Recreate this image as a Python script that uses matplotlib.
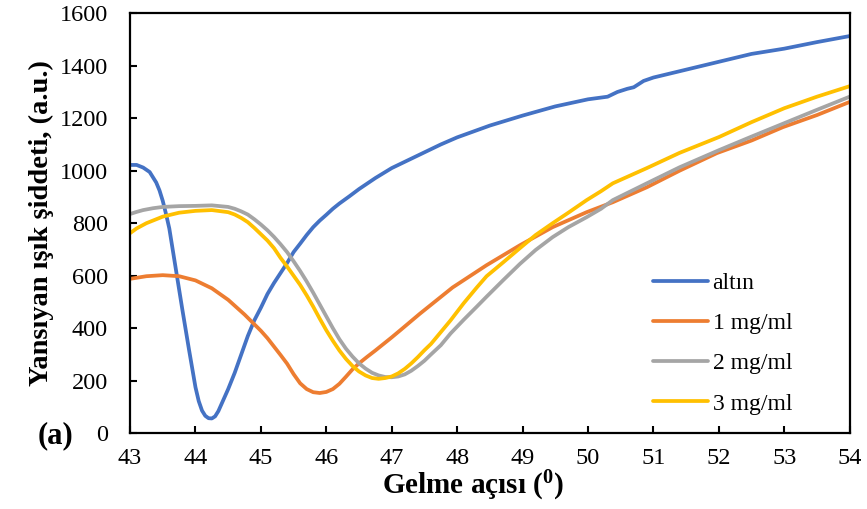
import matplotlib.pyplot as plt

plt.rcParams["font.family"] = ["Liberation Serif", "DejaVu Serif"]
plt.rcParams["mathtext.fontset"] = "custom"
plt.rcParams["mathtext.rm"] = "Liberation Serif"
plt.rcParams["mathtext.bf"] = "Liberation Serif:bold"

# altın
x_gold = [43.0, 43.1, 43.2, 43.3, 43.4, 43.45, 43.5, 43.55, 43.6, 43.7, 43.8, 43.9,
          44.0, 44.05, 44.1, 44.15, 44.2, 44.25, 44.3, 44.35, 44.4, 44.45, 44.5, 44.6,
          44.7, 44.8, 44.9, 45.0, 45.1, 45.2, 45.3, 45.4, 45.5, 45.6, 45.7, 45.8,
          45.9, 46.0, 46.1, 46.2, 46.35, 46.5, 46.75, 47.0, 47.25, 47.5, 47.75, 48.0,
          48.5, 49.0, 49.5, 50.0, 50.3, 50.45, 50.6, 50.7, 50.85, 51.0, 51.5, 52.0,
          52.5, 53.0, 53.5, 54.0]
y_gold = [1022, 1022, 1012, 995, 955, 925, 885, 835, 780, 625, 470, 320,
          175, 122, 86, 66, 57, 56, 64, 84, 112, 140, 168, 230,
          300, 370, 430, 478, 530, 572, 610, 648, 690, 722, 755, 785,
          810, 832, 855, 875, 902, 930, 972, 1010, 1040, 1070, 1100, 1127,
          1172, 1210, 1245, 1272, 1282, 1300, 1312, 1318, 1342, 1355, 1385, 1415,
          1445, 1465, 1490, 1513]

# 1 mg/ml
x_1 = [43.0, 43.25, 43.5, 43.75, 44.0, 44.25, 44.5, 44.75, 45.0, 45.1, 45.2,
       45.3, 45.4, 45.5, 45.6, 45.7, 45.8, 45.9, 46.0, 46.1, 46.2, 46.3,
       46.4, 46.5, 46.62, 46.75, 47.0, 47.13, 47.43, 47.93, 48.45, 48.96, 49.46,
       49.98, 50.38, 50.9, 51.4, 51.97, 52.5, 52.98, 53.5, 54.0]
y_1 = [588, 598, 602, 598, 582, 552, 508, 452, 390, 362, 330,
       298, 265, 225, 190, 168, 156, 153, 157, 168, 188, 215,
       243, 266, 290, 315, 365, 392, 455, 555, 640, 716, 785,
       842, 880, 937, 1000, 1067, 1115, 1166, 1212, 1262]

# 2 mg/ml
x_2 = [43.0, 43.1, 43.2, 43.35, 43.5, 43.75, 44.0, 44.25, 44.5, 44.6, 44.7,
       44.8, 44.9, 45.0, 45.1, 45.2, 45.3, 45.4, 45.5, 45.6, 45.7, 45.8,
       45.9, 46.0, 46.1, 46.2, 46.3, 46.4, 46.5, 46.6, 46.7, 46.8, 46.9,
       47.0, 47.1, 47.2, 47.3, 47.4, 47.5, 47.6, 47.75, 47.9, 48.1, 48.3,
       48.45, 48.7, 48.96, 49.2, 49.46, 49.7, 49.98, 50.2, 50.38, 50.9, 51.4,
       52.0, 52.5, 53.0, 53.5, 54.0]
y_2 = [835, 843, 850, 857, 862, 865, 866, 868, 862, 855, 845,
       833, 815, 795, 773, 748, 720, 690, 655, 618, 578, 535,
       490, 445, 400, 358, 322, 292, 266, 246, 230, 220, 214,
       213, 216, 224, 238, 256, 276, 300, 335, 380, 432, 482,
       520, 582, 645, 698, 747, 785, 823, 855, 888, 952, 1013,
       1078, 1130, 1181, 1232, 1282]

# 3 mg/ml
x_3 = [43.0, 43.1, 43.25, 43.5, 43.75, 44.0, 44.25, 44.5, 44.6, 44.7, 44.8,
       44.9, 45.0, 45.1, 45.2, 45.3, 45.4, 45.5, 45.6, 45.7, 45.8, 45.9,
       46.0, 46.1, 46.2, 46.3, 46.4, 46.5, 46.6, 46.7, 46.8, 46.9, 47.0,
       47.1, 47.2, 47.3, 47.4, 47.5, 47.6, 47.75, 47.9, 48.1, 48.3, 48.45,
       48.7, 48.96, 49.2, 49.46, 49.7, 49.98, 50.2, 50.38, 50.9, 51.4, 52.0,
       52.5, 53.0, 53.5, 54.0]
y_3 = [762, 780, 800, 825, 840, 847, 850, 842, 833, 820, 804,
       782, 758, 734, 705, 668, 635, 600, 565, 525, 482, 436,
       392, 352, 315, 283, 256, 235, 220, 210, 207, 210, 216,
       228, 245, 266, 290, 316, 340, 385, 430, 495, 555, 598,
       650, 705, 755, 800, 840, 888, 922, 952, 1010, 1068, 1128,
       1185, 1238, 1282, 1322]

labels = ["altın", "1 mg/ml", "2 mg/ml", "3 mg/ml"]
colors = ["#4472C4", "#ED7D31", "#A5A5A5", "#FFC000"]

fig = plt.figure(figsize=(8.67, 5.09), dpi=100)
ax = fig.add_axes([0.150, 0.149, 0.830, 0.825])

for xs, ys, lab, c in zip([x_gold, x_1, x_2, x_3], [y_gold, y_1, y_2, y_3], labels, colors):
    ax.plot(xs, ys, color=c, lw=2.7, label=lab, solid_capstyle="round",
            solid_joinstyle="round")

ax.set_xlim(43, 54)
ax.set_ylim(0, 1600)
ax.set_xticks(range(43, 55))
ax.set_yticks(range(0, 1601, 200))
ax.tick_params(direction="in", length=5, width=1.5, labelsize=17.5)
ax.tick_params(axis="y", pad=16)
ax.tick_params(axis="x", pad=11)
for s in ax.spines.values():
    s.set_linewidth(1.6)

ax.set_ylabel("Yansıyan ışık şiddeti, (a.u.)", fontsize=20.5, fontweight="bold",
              labelpad=4)
ax.set_xlabel("Gelme açısı ($\\mathbf{^{0}}$)", fontsize=21, fontweight="bold",
              labelpad=0)
ax.xaxis.set_label_coords(0.476, -0.085)
fig.text(0.043, 0.13, "(a)", fontsize=22, fontweight="bold")

ax.legend(loc="lower left", bbox_to_anchor=(0.710, 0.016), frameon=False,
          fontsize=17, handlelength=2.33, handletextpad=0.2, labelspacing=0.79,
          borderpad=0)

fig.savefig("out.png", dpi=100)
